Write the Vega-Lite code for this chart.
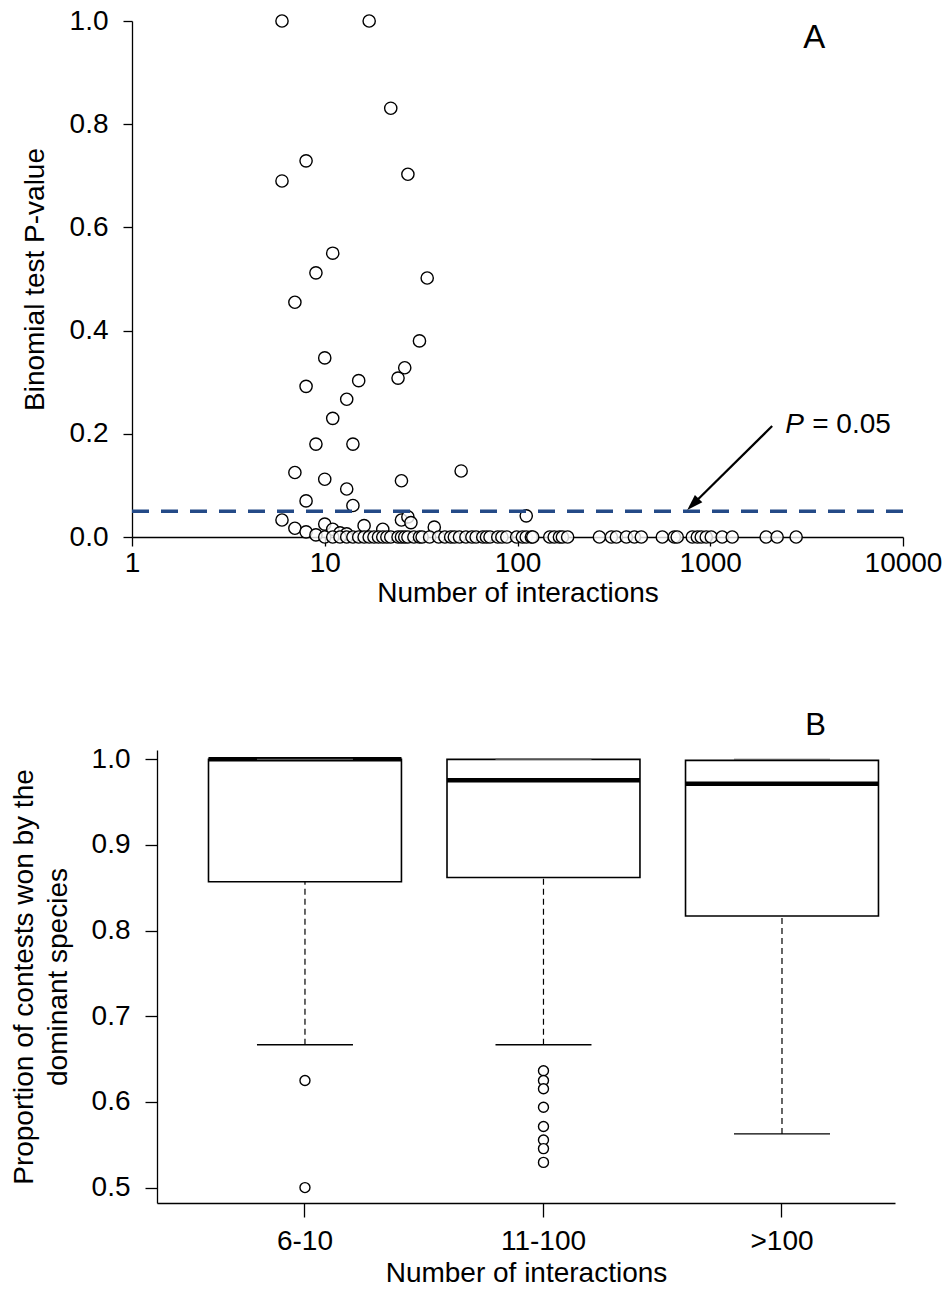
{
  "$schema": "https://vega.github.io/schema/vega-lite/v6.json",
  "background": "white",
  "padding": {"left": 10, "top": 7, "right": 5, "bottom": 5},
  "config": {
    "font": "Liberation Sans",
    "view": {"stroke": null},
    "axis": {
      "labelFont": "Liberation Sans", "titleFont": "Liberation Sans",
      "labelFontSize": 28, "titleFontSize": 28,
      "labelColor": "black", "titleColor": "black", "titleFontWeight": "normal",
      "domainColor": "black", "tickColor": "black", "domainWidth": 1.3, "tickWidth": 1.3,
      "grid": false
    }
  },
  "datasets": {
    "pvals": [
      {"n": 6, "p": 1.0}, {"n": 17, "p": 1.0}, {"n": 22, "p": 0.831}, {"n": 8, "p": 0.729},
      {"n": 6, "p": 0.690}, {"n": 27, "p": 0.703}, {"n": 11, "p": 0.550}, {"n": 9, "p": 0.512},
      {"n": 34, "p": 0.502}, {"n": 7, "p": 0.455}, {"n": 31, "p": 0.380}, {"n": 10, "p": 0.347},
      {"n": 26, "p": 0.328}, {"n": 15, "p": 0.303}, {"n": 24, "p": 0.308}, {"n": 8, "p": 0.292},
      {"n": 13, "p": 0.267}, {"n": 11, "p": 0.230}, {"n": 9, "p": 0.180}, {"n": 14, "p": 0.180},
      {"n": 7, "p": 0.125}, {"n": 51, "p": 0.128}, {"n": 10, "p": 0.112}, {"n": 25, "p": 0.109},
      {"n": 13, "p": 0.093}, {"n": 8, "p": 0.070}, {"n": 14, "p": 0.061},
      {"n": 6, "p": 0.033}, {"n": 7, "p": 0.017}, {"n": 8, "p": 0.010}, {"n": 9, "p": 0.004},
      {"n": 10, "p": 0.025}, {"n": 11, "p": 0.015}, {"n": 12, "p": 0.008}, {"n": 13, "p": 0.006},
      {"n": 16, "p": 0.022}, {"n": 20, "p": 0.015}, {"n": 25, "p": 0.033}, {"n": 27, "p": 0.039},
      {"n": 28, "p": 0.028}, {"n": 37, "p": 0.019}, {"n": 111, "p": 0.041},
      {"n": 10, "p": 0}, {"n": 11, "p": 0}, {"n": 12, "p": 0}, {"n": 13, "p": 0}, {"n": 14, "p": 0},
      {"n": 15, "p": 0}, {"n": 16, "p": 0}, {"n": 17, "p": 0}, {"n": 18, "p": 0}, {"n": 19, "p": 0},
      {"n": 20, "p": 0}, {"n": 21, "p": 0}, {"n": 22, "p": 0}, {"n": 24, "p": 0}, {"n": 25, "p": 0},
      {"n": 26, "p": 0}, {"n": 27, "p": 0}, {"n": 29, "p": 0}, {"n": 31, "p": 0}, {"n": 32, "p": 0},
      {"n": 35, "p": 0}, {"n": 39, "p": 0}, {"n": 42, "p": 0}, {"n": 45, "p": 0}, {"n": 47, "p": 0},
      {"n": 50, "p": 0}, {"n": 54, "p": 0}, {"n": 58, "p": 0}, {"n": 61, "p": 0}, {"n": 66, "p": 0},
      {"n": 69, "p": 0}, {"n": 72, "p": 0}, {"n": 79, "p": 0}, {"n": 83, "p": 0}, {"n": 88, "p": 0},
      {"n": 99, "p": 0}, {"n": 106, "p": 0}, {"n": 111, "p": 0}, {"n": 118, "p": 0}, {"n": 120, "p": 0},
      {"n": 147, "p": 0}, {"n": 155, "p": 0}, {"n": 165, "p": 0}, {"n": 171, "p": 0}, {"n": 182, "p": 0},
      {"n": 266, "p": 0}, {"n": 307, "p": 0}, {"n": 326, "p": 0}, {"n": 367, "p": 0}, {"n": 404, "p": 0},
      {"n": 439, "p": 0}, {"n": 564, "p": 0}, {"n": 651, "p": 0}, {"n": 674, "p": 0}, {"n": 807, "p": 0},
      {"n": 857, "p": 0}, {"n": 898, "p": 0}, {"n": 953, "p": 0}, {"n": 1012, "p": 0}, {"n": 1153, "p": 0},
      {"n": 1300, "p": 0}, {"n": 1950, "p": 0}, {"n": 2223, "p": 0}, {"n": 2790, "p": 0}
    ],
    "threshold": [{"p": 0.05}],
    "arrow": [{"n": 2095, "p": 0.215, "n2": 826, "p2": 0.066}],
    "arrowhead": [{"n": 813, "p": 0.0634}],
    "panelLabelA": [{"n": 3459, "p": 0.948, "label": "A"}],
    "pSymbol": [{"n": 2447, "p": 0.2016, "label": "P"}],
    "pRest": [{"n": 3380, "p": 0.2016, "label": "= 0.05"}],
    "boxstats": [
      {"group": "6-10", "lower": 0.6667, "q1": 0.857, "median": 1.0, "q3": 1.0, "upper": 1.0},
      {"group": "11-100", "lower": 0.6667, "q1": 0.862, "median": 0.9755, "q3": 1.0, "upper": 1.0},
      {"group": ">100", "lower": 0.5627, "q1": 0.817, "median": 0.9716, "q3": 0.9988, "upper": 1.0}
    ],
    "outliers": [
      {"group": "6-10", "value": 0.625}, {"group": "6-10", "value": 0.5},
      {"group": "11-100", "value": 0.6364}, {"group": "11-100", "value": 0.625},
      {"group": "11-100", "value": 0.6154}, {"group": "11-100", "value": 0.5938},
      {"group": "11-100", "value": 0.5714}, {"group": "11-100", "value": 0.5556},
      {"group": "11-100", "value": 0.5455}, {"group": "11-100", "value": 0.5294}
    ]
  },
  "columns": 1,
  "spacing": 103,
  "concat": [
    {
      "width": 771,
      "height": 516,
      "layer": [
        {
          "data": {"name": "pvals"},
          "mark": {"type": "point", "shape": "circle", "filled": false, "fill": "white", "fillOpacity": 0.8, "stroke": "black", "strokeWidth": 1.4, "size": 150, "opacity": 1},
          "encoding": {
            "x": {
              "field": "n", "type": "quantitative", "title": "Number of interactions",
              "scale": {"type": "log", "domain": [1, 10000]},
              "axis": {"values": [1, 10, 100, 1000, 10000], "format": "d", "tickSize": 9, "labelPadding": 3, "titlePadding": 2, "labelFlush": false, "labelOverlap": false}
            },
            "y": {
              "field": "p", "type": "quantitative", "title": "Binomial test P-value",
              "scale": {"domain": [0, 1]},
              "axis": {"values": [0, 0.2, 0.4, 0.6, 0.8, 1.0], "format": ".1f", "tickSize": 9, "labelPadding": 15, "titlePadding": 20}
            }
          }
        },
        {
          "data": {"name": "threshold"},
          "mark": {"type": "rule", "color": "#244a87", "strokeWidth": 3.5, "strokeDash": [17, 12]},
          "encoding": {
            "y": {"field": "p", "type": "quantitative", "title": "Binomial test P-value"}
          }
        },
        {
          "data": {"name": "arrow"},
          "mark": {"type": "rule", "color": "black", "strokeWidth": 2.2},
          "encoding": {
            "x": {"field": "n", "type": "quantitative", "title": "Number of interactions"},
            "y": {"field": "p", "type": "quantitative", "title": "Binomial test P-value"},
            "x2": {"field": "n2"},
            "y2": {"field": "p2"}
          }
        },
        {
          "data": {"name": "arrowhead"},
          "mark": {"type": "point", "shape": "M0,-1L0.65,1L-0.65,1Z", "filled": true, "color": "black", "opacity": 1, "size": 260, "angle": 225},
          "encoding": {
            "x": {"field": "n", "type": "quantitative", "title": "Number of interactions"},
            "y": {"field": "p", "type": "quantitative", "title": "Binomial test P-value"}
          }
        },
        {
          "data": {"name": "panelLabelA"},
          "mark": {"type": "text", "font": "Liberation Sans", "fontSize": 33, "align": "center", "baseline": "alphabetic", "color": "black"},
          "encoding": {
            "x": {"field": "n", "type": "quantitative", "title": "Number of interactions"},
            "y": {"field": "p", "type": "quantitative", "title": "Binomial test P-value"},
            "text": {"field": "label"}
          }
        },
        {
          "data": {"name": "pSymbol"},
          "mark": {"type": "text", "font": "Liberation Sans", "fontSize": 28, "fontStyle": "italic", "align": "left", "baseline": "alphabetic", "color": "black"},
          "encoding": {
            "x": {"field": "n", "type": "quantitative", "title": "Number of interactions"},
            "y": {"field": "p", "type": "quantitative", "title": "Binomial test P-value"},
            "text": {"field": "label"}
          }
        },
        {
          "data": {"name": "pRest"},
          "mark": {"type": "text", "font": "Liberation Sans", "fontSize": 28, "align": "left", "baseline": "alphabetic", "color": "black"},
          "encoding": {
            "x": {"field": "n", "type": "quantitative", "title": "Number of interactions"},
            "y": {"field": "p", "type": "quantitative", "title": "Binomial test P-value"},
            "text": {"field": "label"}
          }
        }
      ]
    },
    {
      "width": 763,
      "height": 453,
      "title": {"text": "B", "anchor": "end", "font": "Liberation Sans", "fontSize": 31, "fontWeight": "normal", "color": "black", "dx": -69, "offset": 3},
      "layer": [
        {
          "data": {"name": "boxstats"},
          "mark": {"type": "rule", "color": "black", "strokeWidth": 1.2, "strokeDash": [6, 4]},
          "encoding": {
            "x": {
              "field": "group", "type": "nominal", "sort": ["6-10", "11-100", ">100"], "title": "Number of interactions",
              "scale": {"type": "band", "range": [25, 763], "paddingInner": 0.191, "paddingOuter": 0.1426, "align": 0.757},
              "axis": {"labelAngle": 0, "tickSize": 14, "labelPadding": 10, "titlePadding": 4}
            },
            "y": {
              "field": "lower", "type": "quantitative", "title": ["Proportion of contests won by the", "dominant species"],
              "scale": {"domain": [0.482, 1.0109], "zero": false},
              "axis": {"values": [0.5, 0.6, 0.7, 0.8, 0.9, 1.0], "format": ".1f", "offset": -25, "titleLineHeight": 34, "tickSize": 12, "labelPadding": 15, "titlePadding": 19}
            },
            "y2": {"field": "q1"}
          }
        },
        {
          "data": {"name": "boxstats"},
          "mark": {"type": "rule", "color": "black", "strokeWidth": 1.2, "strokeDash": [6, 4]},
          "encoding": {
            "x": {"field": "group", "type": "nominal", "sort": ["6-10", "11-100", ">100"], "title": "Number of interactions"},
            "y": {"field": "q3", "type": "quantitative", "title": ["Proportion of contests won by the", "dominant species"], "scale": {"domain": [0.482, 1.0109], "zero": false}},
            "y2": {"field": "upper"}
          }
        },
        {
          "data": {"name": "boxstats"},
          "mark": {"type": "bar", "fill": "white", "stroke": "black", "strokeWidth": 1.6},
          "encoding": {
            "x": {"field": "group", "type": "nominal", "sort": ["6-10", "11-100", ">100"], "title": "Number of interactions"},
            "y": {"field": "q1", "type": "quantitative", "title": ["Proportion of contests won by the", "dominant species"], "scale": {"domain": [0.482, 1.0109], "zero": false}},
            "y2": {"field": "q3"}
          }
        },
        {
          "data": {"name": "boxstats"},
          "mark": {"type": "tick", "color": "black", "size": 193, "thickness": 4.5, "opacity": 1},
          "encoding": {
            "x": {"field": "group", "type": "nominal", "sort": ["6-10", "11-100", ">100"], "title": "Number of interactions"},
            "y": {"field": "median", "type": "quantitative", "title": ["Proportion of contests won by the", "dominant species"], "scale": {"domain": [0.482, 1.0109], "zero": false}}
          }
        },
        {
          "data": {"name": "boxstats"},
          "mark": {"type": "tick", "color": "black", "size": 96, "thickness": 1.4, "opacity": 1},
          "encoding": {
            "x": {"field": "group", "type": "nominal", "sort": ["6-10", "11-100", ">100"], "title": "Number of interactions"},
            "y": {"field": "lower", "type": "quantitative", "title": ["Proportion of contests won by the", "dominant species"], "scale": {"domain": [0.482, 1.0109], "zero": false}}
          }
        },
        {
          "data": {"name": "boxstats"},
          "mark": {"type": "tick", "color": "#555555", "size": 96, "thickness": 1.2, "opacity": 1},
          "encoding": {
            "x": {"field": "group", "type": "nominal", "sort": ["6-10", "11-100", ">100"], "title": "Number of interactions"},
            "y": {"field": "upper", "type": "quantitative", "title": ["Proportion of contests won by the", "dominant species"], "scale": {"domain": [0.482, 1.0109], "zero": false}}
          }
        },
        {
          "data": {"name": "outliers"},
          "mark": {"type": "point", "shape": "circle", "filled": false, "fill": "white", "stroke": "black", "strokeWidth": 1.4, "size": 100, "opacity": 1},
          "encoding": {
            "x": {"field": "group", "type": "nominal", "sort": ["6-10", "11-100", ">100"], "title": "Number of interactions"},
            "y": {"field": "value", "type": "quantitative", "title": ["Proportion of contests won by the", "dominant species"], "scale": {"domain": [0.482, 1.0109], "zero": false}}
          }
        }
      ]
    }
  ]
}
